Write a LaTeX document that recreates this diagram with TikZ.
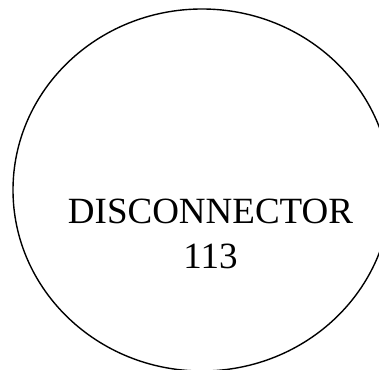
\documentclass[tikz,border=0pt]{standalone}
\usepackage{fontspec}
\setmainfont{Liberation Serif}
\usepackage{tikz}
\usetikzlibrary{shapes.geometric, positioning}

\begin{document}
\begin{tikzpicture}[
    x=1pt, y=1pt,
    outline/.style={draw, ellipse, line width=1.4pt, inner sep=0pt, minimum width=378pt, minimum height=362pt},
    caption/.style={align=center, inner sep=0pt, font=\fontsize{37}{45}\selectfont},
]
\useasboundingbox (0,0) rectangle (379,369);
\clip (0,0) rectangle (379,369);

% switch body and its name
\node[outline] (disc) at (202,179) {};
\node[caption] (disclabel) at (210.5,135) {DISCONNECTOR\\113};

\end{tikzpicture}
\end{document}
